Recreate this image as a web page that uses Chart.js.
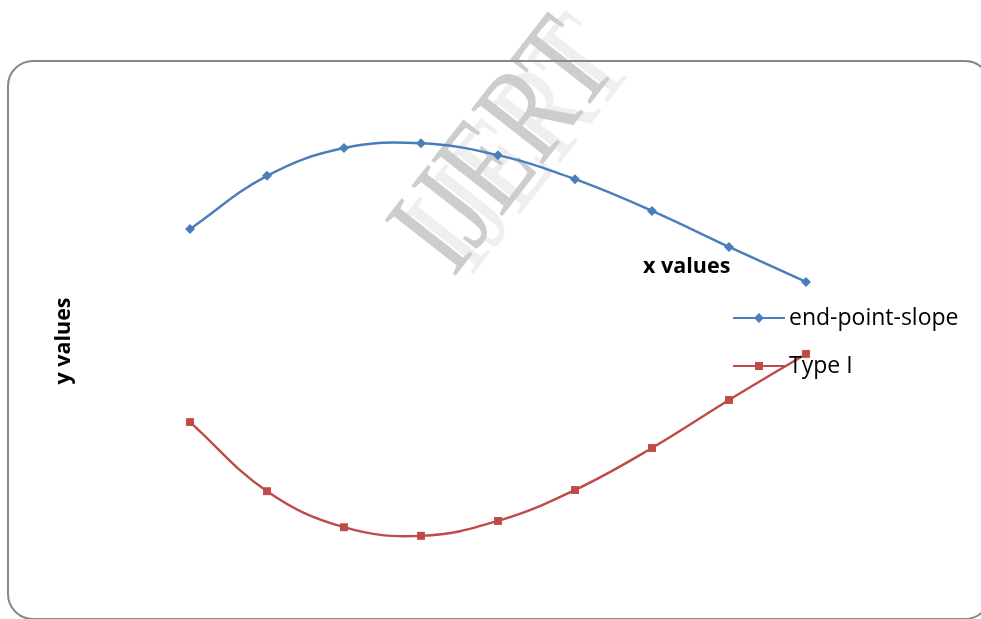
<!DOCTYPE html>
<html>
<head>
<meta charset="utf-8">
<script src="https://cdn.jsdelivr.net/npm/chart.js@4/dist/chart.umd.min.js"></script>
<style>
  html, body { margin: 0; padding: 0; background: #fff; }
  #wrap { width: 981px; height: 619px; position: relative; }
</style>
</head>
<body>
<div id="wrap"><canvas id="chart" width="981" height="619"></canvas></div>
<script>
// x positions of the samples
const xValues = [1, 2, 3, 4, 5, 6, 7, 8, 9];
// series (arbitrary units)
const endPointSlope = [7.31, 8.42, 9.0, 9.10, 8.85, 8.35, 7.69, 6.94, 6.21];
const typeOne = [3.29, 1.85, 1.10, 0.92, 1.23, 1.875, 2.75, 3.75, 4.71];
const seriesNames = ['end-point-slope', 'Type I'];
const xTitle = 'x values';
const yTitle = 'y values';

const BLUE = '#4a7ebb';
const RED = '#be4b48';

// frame, watermark, axis titles and legend drawn around the plot
const decorations = {
    id: 'decorations',
    beforeDatasetsDraw: (chart) => {
        const ctx = chart.ctx;
        // watermark
        ctx.save();
        ctx.translate(508, 150);
        ctx.rotate(-52 * Math.PI / 180);
        ctx.scale(1, 1.3);
        ctx.font = '106px "Liberation Serif", serif';
        ctx.textAlign = 'center';
        ctx.textBaseline = 'middle';
        ctx.fillStyle = '#efefef';
        ctx.fillText('IJERT', 12, 10);
        ctx.fillStyle = '#cdcdcd';
        ctx.fillText('IJERT', 0, 0);
        ctx.restore();

        // rounded frame
        ctx.save();
        ctx.strokeStyle = '#878787';
        ctx.lineWidth = 2;
        ctx.beginPath();
        ctx.roundRect(8, 61, 982, 558, 25);
        ctx.stroke();
        ctx.restore();
    },
    afterDatasetsDraw: (chart) => {
        const ctx = chart.ctx;
        ctx.save();
        ctx.fillStyle = '#000';
        ctx.font = 'bold 21.5px "Open Sans", sans-serif';
        ctx.textBaseline = 'alphabetic';
        ctx.textAlign = 'left';
        ctx.fillText(xTitle, 643, 273);

        ctx.save();
        ctx.translate(70, 341);
        ctx.rotate(-Math.PI / 2);
        ctx.textAlign = 'center';
        ctx.fillText(yTitle, 0, 0);
        ctx.restore();

        // legend
        const rows = [318, 366];
        chart.data.datasets.forEach((ds, i) => {
            const y = rows[i];
            ctx.strokeStyle = ds.borderColor;
            ctx.lineWidth = 2.2;
            ctx.beginPath();
            ctx.moveTo(733, y);
            ctx.lineTo(785, y);
            ctx.stroke();
            ctx.fillStyle = ds.backgroundColor;
            ctx.save();
            ctx.translate(759, y);
            if (ds.pointStyle === 'rectRot') {
                ctx.rotate(Math.PI / 4);
                ctx.fillRect(-3.5, -3.5, 7, 7);
            } else {
                ctx.fillRect(-4, -4, 8, 8);
            }
            ctx.restore();
            ctx.fillStyle = '#000';
            ctx.font = '23px "Open Sans", sans-serif';
            ctx.textBaseline = 'middle';
            ctx.fillText(ds.label, 789, y);
        });
        ctx.restore();
    }
};

new Chart(document.getElementById('chart'), {
    type: 'line',
    data: {
        datasets: [
            {
                label: seriesNames[0],
                data: xValues.map((x, i) => ({ x: x, y: endPointSlope[i] })),
                borderColor: BLUE,
                backgroundColor: BLUE,
                borderWidth: 2.4,
                pointStyle: 'rectRot',
                pointRadius: 5,
                pointBorderWidth: 0,
                tension: 0.4,
                fill: false
            },
            {
                label: seriesNames[1],
                data: xValues.map((x, i) => ({ x: x, y: typeOne[i] })),
                borderColor: RED,
                backgroundColor: RED,
                borderWidth: 2.4,
                pointStyle: 'rect',
                pointRadius: 5.6,
                pointBorderWidth: 0,
                tension: 0.4,
                fill: false
            }
        ]
    },
    options: {
        responsive: false,
        animation: false,
        events: [],
        layout: { padding: { left: 113, right: 98, top: 100, bottom: 39 } },
        plugins: {
            legend: { display: false },
            tooltip: { enabled: false }
        },
        scales: {
            x: { type: 'linear', min: 0, max: 10, display: false },
            y: { type: 'linear', min: 0, max: 10, display: false }
        }
    },
    plugins: [decorations]
});
</script>
</body>
</html>
